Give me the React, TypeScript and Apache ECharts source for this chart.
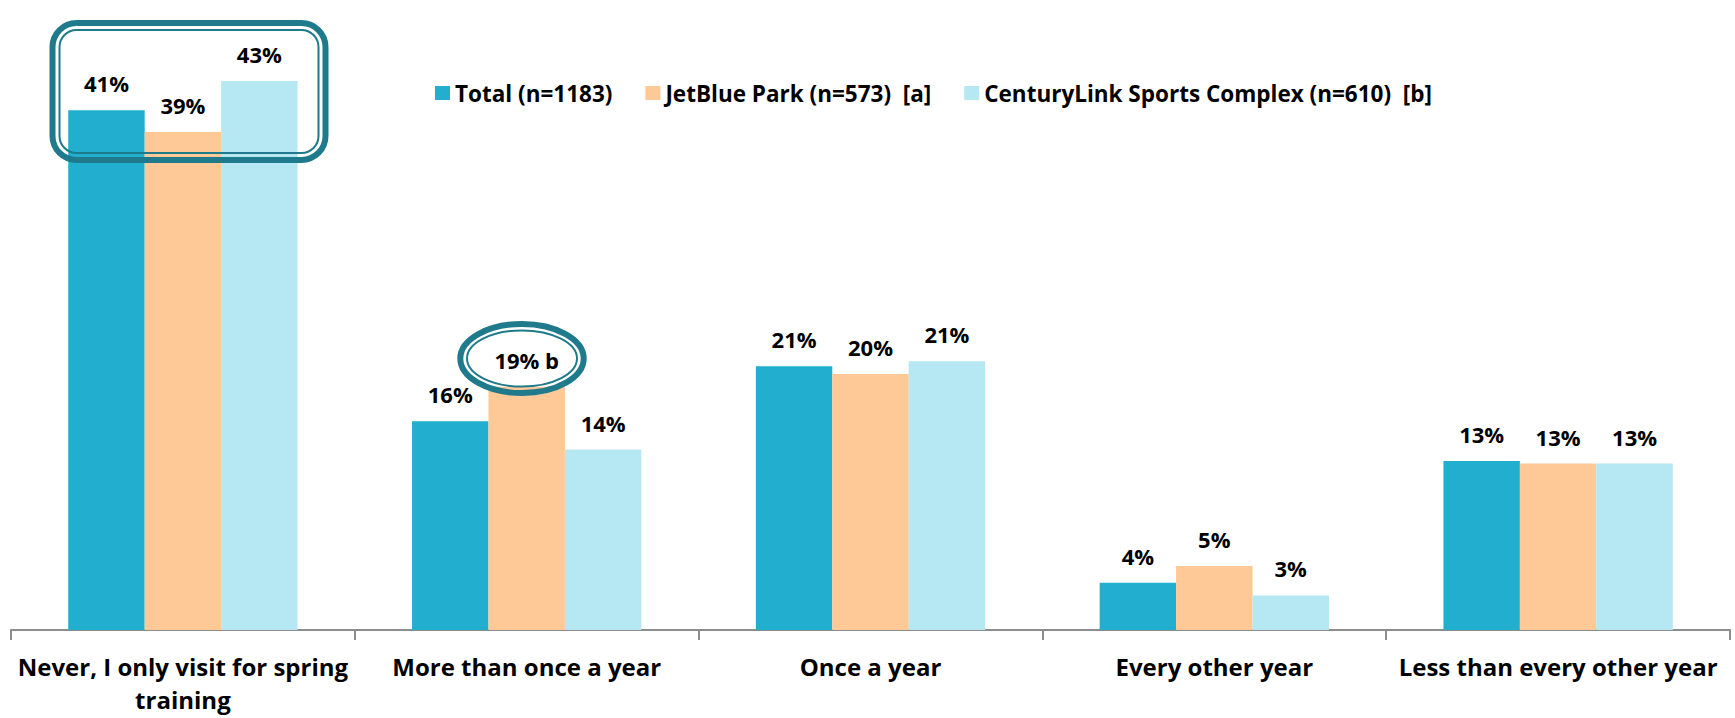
import React, { useEffect, useRef } from "react";
import * as echarts from "echarts";

const categories = [
  "Never, I only visit for spring\ntraining",
  "More than once a year",
  "Once a year",
  "Every other year",
  "Less than every other year",
];
const seriesNames = [
  "Total (n=1183)",
  "JetBlue Park (n=573)  [a]",
  "CenturyLink Sports Complex (n=610)  [b]",
];
const totalValues = [40.6, 16.3, 20.6, 3.7, 13.2];
const jetBlueValues = [38.9, 19.0, 20.0, 5.0, 13.0];
const centuryLinkValues = [42.9, 14.1, 21.0, 2.7, 13.0];
const totalSig = ["", "", "", "", ""];
const jetBlueSig = ["", "b", "", "", ""];
const centuryLinkSig = ["", "", "", "", ""];
const colors = ["#21AECF", "#FFC997", "#B5E8F2"];

const FONT = "'Open Sans', 'Liberation Sans', sans-serif";
const TEAL = "#1F7A8C";

export default function App() {
  const ref = useRef<HTMLDivElement>(null);
  useEffect(() => {
    if (!ref.current) return;
    const chart = echarts.init(ref.current, null, { renderer: "svg" });
    const valueSets = [totalValues, jetBlueValues, centuryLinkValues];
    const sigSets = [totalSig, jetBlueSig, centuryLinkSig];
    const series = seriesNames.map((name, i) => ({
      name,
      type: "bar",
      data: valueSets[i],
      barGap: "0%",
      barCategoryGap: "33.3%",
      itemStyle: { color: colors[i] },
      label: {
        show: true,
        position: "top",
        distance: 16,
        fontFamily: FONT,
        fontWeight: "bold",
        fontSize: 22,
        color: "#000",
        formatter: (p: any) => {
          const s = sigSets[i][p.dataIndex];
          return `${Math.round(p.value)}%${s ? " " + s : ""}`;
        },
      },
    }));
    chart.setOption({
      animation: false,
      color: colors,
      grid: { left: 11, right: 5, top: 54, bottom: 88, containLabel: false },
      legend: {
        left: 430,
        top: 76,
        icon: "rect",
        itemWidth: 15,
        itemHeight: 14,
        itemGap: 33,
        textStyle: {
          fontFamily: FONT,
          fontWeight: "bold",
          fontSize: 22.5,
          color: "#000",
          lineHeight: 24,
        },
        data: seriesNames,
      },
      xAxis: {
        type: "category",
        data: categories,
        axisLine: { show: true, lineStyle: { color: "#8C8C8C", width: 2 } },
        axisTick: { show: true, length: 10, lineStyle: { color: "#8C8C8C", width: 2 } },
        axisLabel: {
          interval: 0,
          margin: 20,
          fontFamily: FONT,
          fontWeight: "bold",
          fontSize: 24,
          lineHeight: 33,
          color: "#000",
        },
      },
      yAxis: {
        type: "value",
        min: 0,
        max: 45,
        show: false,
        splitLine: { show: false },
      },
      series,
      graphic: [
        {
          type: "rect",
          z: 100,
          shape: { x: 52.5, y: 23, width: 273, height: 137, r: 24 },
          style: { fill: "none", stroke: TEAL, lineWidth: 6 },
        },
        {
          type: "rect",
          z: 100,
          shape: { x: 59.5, y: 30, width: 259, height: 123, r: 17 },
          style: { fill: "none", stroke: TEAL, lineWidth: 2 },
        },
        {
          type: "ellipse",
          z: 100,
          shape: { cx: 522, cy: 358.5, rx: 61.7, ry: 34.5 },
          style: { fill: "none", stroke: TEAL, lineWidth: 6 },
        },
        {
          type: "ellipse",
          z: 100,
          shape: { cx: 522, cy: 358.5, rx: 55, ry: 28 },
          style: { fill: "none", stroke: TEAL, lineWidth: 2 },
        },
      ],
    });
    return () => chart.dispose();
  }, []);
  return (
    <div
      ref={ref}
      style={{ position: "fixed", left: 0, top: 0, width: 1735, height: 718, background: "#fff" }}
    />
  );
}
